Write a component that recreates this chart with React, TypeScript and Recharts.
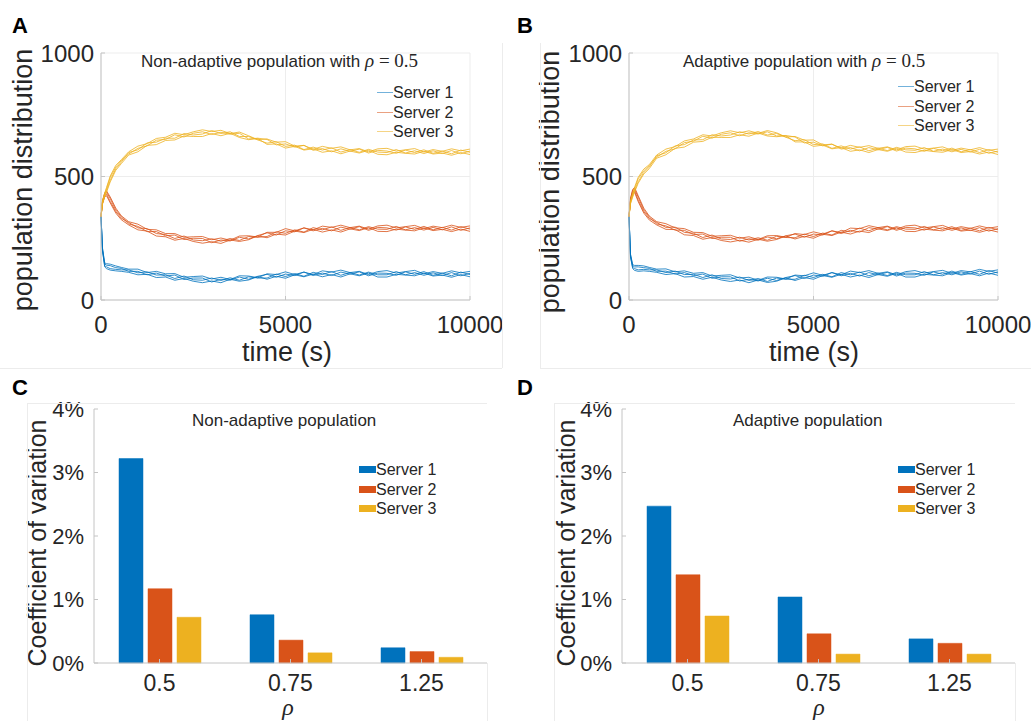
import React from 'react';
import { LineChart, Line, BarChart, Bar, XAxis, YAxis, CartesianGrid, Legend } from 'recharts';

const FONT = '"Liberation Sans", Arial, Helvetica, sans-serif';
const SERIF = '"Liberation Serif", "Times New Roman", serif';
const INK = '#262626';
const AXIS = '#c4c4c4';
const COLORS = ['#0072BD', '#D95319', '#EDB120'];
const SERVERS = ['Server 1', 'Server 2', 'Server 3'];

// time (s) sample points shared by every run
const TIME = [
  0, 40, 100, 150, 250, 400, 550, 750, 1000, 1250, 1500, 1750, 2000, 2250, 2500,
  2750, 3000, 3250, 3500, 3750, 4000, 4250, 4500, 4750, 5000, 5250, 5500, 5750, 6000, 6250,
  6500, 6750, 7000, 7250, 7500, 7750, 8000, 8250, 8500, 8750, 9000, 9250, 9500, 9750, 10000,
];

// panel A: non-adaptive population, 4 runs per server
const A_SERVER1 = [
  [338, 199, 134, 127, 121, 118, 116, 112, 102, 104, 91, 93, 80, 87, 76, 70, 77, 70, 84, 76, 81, 95, 84, 96, 88, 102, 94, 105, 94, 103, 93, 106, 98, 109, 93, 93, 104, 101, 98, 109, 97, 101, 92, 103, 94],
  [338, 211, 150, 147, 145, 138, 132, 125, 125, 111, 116, 106, 107, 92, 95, 97, 85, 92, 83, 98, 97, 90, 106, 103, 114, 103, 113, 103, 118, 113, 121, 111, 116, 103, 115, 119, 109, 115, 120, 106, 115, 108, 118, 110, 116],
  [338, 202, 138, 134, 127, 124, 122, 122, 110, 114, 101, 102, 87, 97, 82, 80, 89, 79, 90, 80, 94, 89, 89, 105, 95, 107, 96, 112, 103, 115, 100, 112, 101, 113, 102, 102, 115, 102, 111, 100, 110, 99, 111, 98, 108],
  [338, 208, 146, 141, 139, 131, 128, 116, 116, 102, 109, 97, 101, 83, 89, 89, 73, 84, 80, 93, 84, 96, 104, 92, 105, 99, 113, 99, 109, 99, 113, 105, 114, 98, 109, 108, 100, 114, 104, 115, 100, 109, 98, 113, 103],
];
const A_SERVER2 = [
  [338, 398, 430, 436, 411, 365, 337, 308, 298, 277, 277, 260, 263, 245, 250, 249, 232, 243, 239, 254, 247, 261, 272, 263, 280, 276, 292, 280, 290, 280, 295, 287, 297, 282, 294, 292, 283, 296, 286, 298, 284, 294, 283, 297, 287],
  [338, 392, 422, 429, 399, 358, 331, 314, 292, 289, 269, 265, 249, 259, 243, 240, 248, 238, 249, 241, 257, 254, 257, 276, 270, 284, 275, 293, 284, 296, 282, 294, 284, 297, 287, 286, 298, 284, 293, 283, 294, 284, 296, 282, 292],
  [338, 401, 434, 442, 417, 372, 341, 317, 307, 286, 284, 269, 269, 254, 256, 257, 244, 251, 242, 259, 260, 255, 274, 274, 289, 280, 292, 284, 299, 294, 303, 293, 299, 287, 300, 303, 292, 297, 302, 289, 299, 293, 303, 294, 300],
  [338, 389, 418, 422, 393, 352, 325, 304, 284, 279, 259, 256, 242, 249, 237, 230, 236, 229, 243, 237, 244, 260, 252, 267, 263, 279, 273, 286, 275, 284, 275, 288, 281, 293, 278, 277, 287, 283, 280, 292, 281, 286, 277, 287, 278],
];
const A_SERVER3 = [
  [338, 401, 433, 456, 502, 545, 568, 600, 623, 633, 654, 659, 675, 669, 681, 689, 682, 687, 674, 680, 665, 649, 652, 639, 641, 623, 626, 610, 622, 614, 620, 608, 613, 600, 612, 614, 603, 608, 613, 599, 609, 602, 612, 604, 611],
  [338, 389, 417, 436, 478, 525, 552, 587, 600, 626, 629, 646, 648, 664, 662, 662, 674, 665, 675, 658, 649, 654, 630, 632, 615, 622, 607, 612, 598, 604, 592, 603, 595, 606, 590, 588, 598, 594, 591, 602, 591, 595, 586, 597, 589],
  [338, 398, 429, 450, 496, 538, 564, 591, 614, 624, 647, 650, 669, 660, 675, 681, 670, 679, 671, 675, 652, 655, 650, 628, 632, 619, 626, 606, 613, 600, 612, 602, 611, 595, 606, 603, 594, 607, 597, 608, 594, 603, 592, 607, 598],
  [338, 392, 421, 443, 484, 531, 558, 597, 608, 636, 639, 655, 655, 674, 668, 672, 686, 674, 681, 662, 662, 648, 635, 641, 622, 627, 609, 619, 607, 616, 599, 609, 598, 610, 599, 597, 609, 595, 604, 593, 604, 593, 605, 592, 603],
];

// panel B: adaptive population, 4 runs per server
const B_SERVER1 = [
  [338, 183, 139, 134, 134, 131, 128, 116, 117, 105, 111, 99, 105, 88, 94, 94, 77, 84, 77, 88, 79, 91, 99, 87, 101, 96, 111, 98, 108, 97, 111, 102, 112, 97, 109, 108, 100, 114, 104, 117, 104, 115, 104, 119, 109],
  [338, 177, 131, 127, 122, 124, 122, 122, 111, 117, 103, 104, 91, 102, 87, 85, 93, 79, 87, 75, 89, 84, 84, 100, 91, 104, 94, 111, 102, 113, 98, 109, 99, 112, 102, 102, 115, 102, 111, 102, 114, 105, 117, 104, 114],
  [338, 186, 143, 140, 140, 138, 132, 125, 126, 114, 118, 108, 111, 97, 100, 102, 89, 92, 80, 93, 92, 85, 101, 98, 110, 100, 111, 102, 117, 111, 119, 108, 114, 102, 115, 119, 109, 115, 120, 108, 119, 114, 124, 116, 122],
  [338, 174, 127, 120, 116, 118, 116, 112, 103, 107, 93, 95, 84, 92, 81, 75, 81, 70, 81, 71, 76, 90, 79, 91, 84, 99, 92, 104, 93, 101, 91, 103, 96, 108, 93, 93, 104, 101, 98, 111, 101, 107, 98, 109, 100],
];
const B_SERVER2 = [
  [338, 411, 448, 456, 422, 372, 340, 317, 309, 292, 289, 274, 273, 258, 260, 262, 250, 256, 245, 260, 261, 254, 269, 265, 276, 267, 280, 273, 291, 289, 301, 293, 299, 287, 300, 303, 292, 297, 302, 288, 297, 290, 300, 291, 297],
  [338, 399, 432, 436, 398, 352, 324, 304, 286, 285, 264, 261, 246, 253, 241, 235, 242, 234, 246, 238, 245, 259, 247, 258, 250, 266, 261, 275, 267, 279, 273, 288, 281, 293, 278, 277, 287, 283, 280, 291, 279, 283, 274, 284, 275],
  [338, 408, 444, 450, 416, 365, 336, 308, 300, 283, 282, 265, 267, 249, 254, 254, 238, 248, 242, 255, 248, 260, 267, 254, 267, 263, 280, 269, 282, 275, 293, 287, 297, 282, 294, 292, 283, 296, 286, 297, 282, 291, 280, 294, 284],
  [338, 402, 436, 443, 404, 358, 330, 314, 294, 295, 274, 270, 253, 263, 247, 245, 254, 243, 252, 242, 258, 253, 252, 267, 257, 271, 263, 282, 276, 291, 280, 294, 284, 297, 287, 286, 298, 284, 293, 282, 292, 281, 293, 279, 289],
];
const B_SERVER3 = [
  [338, 389, 417, 436, 473, 510, 532, 574, 588, 614, 619, 639, 642, 659, 658, 658, 669, 663, 676, 664, 661, 665, 640, 640, 622, 627, 612, 617, 602, 608, 597, 609, 602, 614, 599, 597, 606, 601, 598, 609, 597, 601, 591, 599, 589],
  [338, 401, 433, 456, 497, 530, 548, 587, 611, 621, 644, 652, 669, 664, 677, 685, 677, 685, 675, 686, 677, 660, 662, 647, 648, 628, 631, 615, 626, 618, 625, 614, 620, 608, 621, 623, 611, 615, 620, 606, 615, 608, 617, 606, 611],
  [338, 392, 421, 443, 479, 516, 538, 584, 596, 624, 629, 648, 649, 669, 664, 668, 681, 672, 682, 668, 674, 659, 645, 649, 629, 632, 614, 624, 611, 620, 604, 615, 605, 618, 608, 606, 617, 602, 611, 600, 610, 599, 610, 594, 603],
  [338, 398, 429, 450, 491, 523, 544, 578, 602, 612, 637, 643, 663, 655, 671, 677, 665, 677, 672, 681, 664, 666, 660, 636, 639, 624, 631, 611, 617, 604, 617, 608, 618, 603, 615, 612, 602, 614, 604, 615, 600, 609, 597, 609, 598],
];

// panels C / D: coefficient of variation (%)
const RHO = ['0.5', '0.75', '1.25'];
const C_SERVER1 = [3.22, 0.76, 0.24];
const C_SERVER2 = [1.17, 0.36, 0.18];
const C_SERVER3 = [0.72, 0.16, 0.09];
const D_SERVER1 = [2.47, 1.04, 0.38];
const D_SERVER2 = [1.39, 0.46, 0.31];
const D_SERVER3 = [0.74, 0.14, 0.14];

const tickStyle = (size: number) => ({ fill: INK, fontSize: size, fontFamily: FONT });

// axis titles get fixed spots inside each chart's svg
const YTitle = ({ posX, posY, text, size }: any) => (
  <text
    transform={`translate(${posX},${posY}) rotate(-90)`}
    textAnchor="middle"
    fontSize={size}
    fontFamily={FONT}
    fill={INK}
  >
    {text}
  </text>
);

const XTitle = ({ posX, posY, text, size, italic }: any) => (
  <text
    x={posX}
    y={posY}
    textAnchor="middle"
    fontSize={size}
    fontFamily={italic ? SERIF : FONT}
    fontStyle={italic ? 'italic' : 'normal'}
    fill={INK}
  >
    {text}
  </text>
);

const LineLegend = () => (
  <div style={{ fontFamily: FONT, fontSize: 16, color: INK }}>
    {SERVERS.map((name, i) => (
      <div key={name} style={{ display: 'flex', alignItems: 'center', height: 19.5 }}>
        <span style={{ width: 16, height: 1, background: COLORS[i], opacity: 0.55, display: 'inline-block' }} />
        <span style={{ lineHeight: '19.5px', whiteSpace: 'nowrap' }}>{name}</span>
      </div>
    ))}
  </div>
);

const BarLegend = () => (
  <div style={{ fontFamily: FONT, fontSize: 16, color: INK }}>
    {SERVERS.map((name, i) => (
      <div key={name} style={{ display: 'flex', alignItems: 'center', height: 19.5 }}>
        <span style={{ width: 17, height: 7, background: COLORS[i], display: 'inline-block' }} />
        <span style={{ lineHeight: '19.5px', whiteSpace: 'nowrap' }}>{name}</span>
      </div>
    ))}
  </div>
);

function buildLineData(servers: number[][][]) {
  return TIME.map((t, i) => {
    const row: Record<string, number> = { t };
    servers.forEach((runs, s) => runs.forEach((run, r) => { row[`s${s}r${r}`] = run[i]; }));
    return row;
  });
}

const LinePanel = ({ left, width, yAxisWidth, marginRight, servers, legendLeft, legendTop, yTitleX, yTitleY, xTitleX }: any) => {
  const data = buildLineData(servers);
  return (
    <div style={{ position: 'absolute', left, top: 0 }}>
      <LineChart width={width} height={370} data={data} margin={{ top: 53, right: marginRight, bottom: 0, left: 0 }}>
        <CartesianGrid stroke="#ededed" />
        <XAxis
          dataKey="t"
          type="number"
          domain={[0, 10000]}
          ticks={[0, 5000, 10000]}
          height={70}
          stroke={AXIS}
          tickSize={-4}
          tickMargin={20}
          tick={tickStyle(24)}
          label={<XTitle posX={xTitleX} posY={361} text="time (s)" size={27} />}
        />
        <XAxis xAxisId="top" orientation="top" dataKey="t" type="number" domain={[0, 10000]} ticks={[0, 5000, 10000]} height={0} stroke={AXIS} tickSize={-4} tick={false} />
        <YAxis
          type="number"
          domain={[0, 1000]}
          ticks={[0, 500, 1000]}
          width={yAxisWidth}
          stroke={AXIS}
          tickSize={-4}
          tickMargin={11}
          tick={tickStyle(24)}
          label={<YTitle posX={yTitleX} posY={yTitleY} text="population distribution" size={27} />}
        />
        <YAxis yAxisId="right" orientation="right" type="number" domain={[0, 1000]} ticks={[0, 500, 1000]} width={0} stroke={AXIS} tickSize={-4} tick={false} />
        {servers.map((runs: number[][], s: number) =>
          runs.map((_, r) => (
            <Line
              key={`s${s}r${r}`}
              type="linear"
              dataKey={`s${s}r${r}`}
              stroke={COLORS[s]}
              strokeWidth={1}
              strokeOpacity={0.8}
              dot={false}
              activeDot={false}
              isAnimationActive={false}
            />
          ))
        )}
        <Legend
          layout="vertical"
          align="center"
          verticalAlign="middle"
          wrapperStyle={{ left: legendLeft, top: legendTop, width: 100 }}
          content={() => <LineLegend />}
        />
      </LineChart>
    </div>
  );
};

const BarPanel = ({ left, width, yAxisWidth, marginRight, values, legendLeft, yTitleX, xTitleX }: any) => {
  const data = RHO.map((rho, i) => ({ rho, s0: values[0][i], s1: values[1][i], s2: values[2][i] }));
  return (
    <div style={{ position: 'absolute', left, top: 370 }}>
      <BarChart width={width} height={351} data={data} margin={{ top: 39, right: marginRight, bottom: 0, left: 0 }} barSize={24} barGap={5}>
        <XAxis
          dataKey="rho"
          height={58}
          stroke={AXIS}
          tickSize={-4}
          tickMargin={16}
          tick={tickStyle(23)}
          label={<XTitle posX={xTitleX} posY={345} text="ρ" size={24} italic />}
        />
        <XAxis xAxisId="top" orientation="top" dataKey="rho" height={0} stroke={AXIS} tickSize={-4} tick={false} />
        <YAxis
          type="number"
          domain={[0, 4]}
          ticks={[0, 1, 2, 3, 4]}
          tickFormatter={(v: number) => `${v}%`}
          width={yAxisWidth}
          stroke={AXIS}
          tickSize={-4}
          tickMargin={14}
          tick={tickStyle(22)}
          label={<YTitle posX={yTitleX} posY={173} text="Coefficient of variation" size={25} />}
        />
        <YAxis yAxisId="right" orientation="right" type="number" domain={[0, 4]} ticks={[0, 1, 2, 3, 4]} width={0} stroke={AXIS} tickSize={-4} tick={false} />
        {[0, 1, 2].map((s) => (
          <Bar key={s} dataKey={`s${s}`} fill={COLORS[s]} stroke={COLORS[s]} strokeWidth={0.5} isAnimationActive={false} />
        ))}
        <Legend
          layout="vertical"
          align="center"
          verticalAlign="middle"
          wrapperStyle={{ left: legendLeft, top: 90, width: 100 }}
          content={() => <BarLegend />}
        />
      </BarChart>
    </div>
  );
};

const Title = ({ x, y, text, rho }: any) => (
  <text x={x} y={y} fontFamily={FONT} fontSize={17} fill={INK}>
    {text}
    {rho && (
      <>
        <tspan fontFamily={SERIF} fontStyle="italic" fontSize={19}> ρ</tspan>
        <tspan fontFamily={SERIF} fontSize={19}> = 0.5</tspan>
      </>
    )}
  </text>
);

const Letter = ({ x, y, c }: any) => (
  <text x={x} y={y} fontFamily={FONT} fontWeight="bold" fontSize={22} fill="#000">{c}</text>
);

export default function App() {
  return (
    <div style={{ position: 'absolute', left: 0, top: 0, width: 1031, height: 721, background: '#fff', overflow: 'hidden' }}>
      <LinePanel
        left={0}
        width={515}
        yAxisWidth={101}
        marginRight={45}
        servers={[A_SERVER1, A_SERVER2, A_SERVER3]}
        legendLeft={377}
        legendTop={83}
        yTitleX={32}
        yTitleY={180}
        xTitleX={287}
      />
      <LinePanel
        left={515}
        width={516}
        yAxisWidth={114}
        marginRight={33}
        servers={[B_SERVER1, B_SERVER2, B_SERVER3]}
        legendLeft={383}
        legendTop={77}
        yTitleX={44}
        yTitleY={182}
        xTitleX={299}
      />
      <BarPanel
        left={0}
        width={515}
        yAxisWidth={94}
        marginRight={28}
        values={[C_SERVER1, C_SERVER2, C_SERVER3]}
        legendLeft={359}
        yTitleX={46}
        xTitleX={288}
      />
      <BarPanel
        left={515}
        width={516}
        yAxisWidth={107}
        marginRight={16}
        values={[D_SERVER1, D_SERVER2, D_SERVER3]}
        legendLeft={383}
        yTitleX={60}
        xTitleX={304}
      />
      <svg width={1031} height={721} style={{ position: 'absolute', left: 0, top: 0, pointerEvents: 'none' }}>
        <g stroke="#ececec" strokeWidth={1}>
          <line x1={0} y1={368.5} x2={502} y2={368.5} />
          <line x1={502.5} y1={43} x2={502.5} y2={368} />
          <line x1={540.5} y1={43} x2={540.5} y2={368} />
          <line x1={540} y1={368.5} x2={1031} y2={368.5} />
          <line x1={27} y1={403.5} x2={487} y2={403.5} />
          <line x1={27.5} y1={403} x2={27.5} y2={721} />
          <line x1={487.5} y1={663} x2={487.5} y2={721} />
          <line x1={554} y1={403.5} x2={1015} y2={403.5} />
          <line x1={554.5} y1={403} x2={554.5} y2={721} />
          <line x1={1015.5} y1={663} x2={1015.5} y2={721} />
        </g>
        <Letter x={12} y={33} c="A" />
        <Letter x={517} y={33} c="B" />
        <Letter x={12} y={395} c="C" />
        <Letter x={517} y={395} c="D" />
        <Title x={141} y={67} text="Non-adaptive population with" rho />
        <Title x={683} y={67} text="Adaptive population with" rho />
        <Title x={192} y={426} text="Non-adaptive population" />
        <Title x={733} y={426} text="Adaptive population" />
      </svg>
    </div>
  );
}
